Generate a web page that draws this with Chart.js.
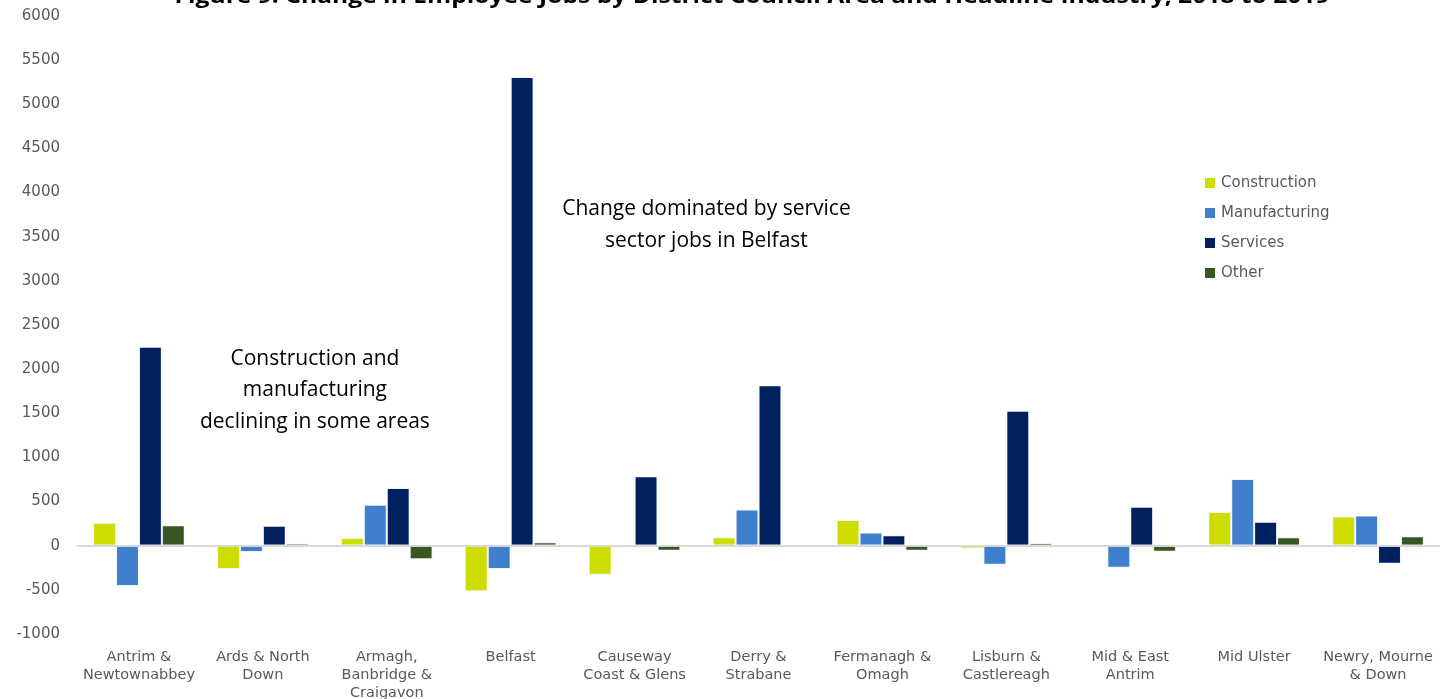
<!DOCTYPE html>
<html>
<head>
<meta charset="utf-8">
<title>Figure 9</title>
<script src="https://cdn.jsdelivr.net/npm/chart.js@4.4.1/dist/chart.umd.min.js"></script>
<style>
  html, body { margin: 0; padding: 0; background: #fff; overflow: hidden; }
  #wrap { width: 1443px; height: 699px; position: relative; }
</style>
</head>
<body>
<div id="wrap"><canvas id="myChart"></canvas></div>
<script>
const categories = [
    ["Antrim &", "Newtownabbey"],
    ["Ards & North", "Down"],
    ["Armagh,", "Banbridge &", "Craigavon"],
    ["Belfast"],
    ["Causeway", "Coast & Glens"],
    ["Derry &", "Strabane"],
    ["Fermanagh &", "Omagh"],
    ["Lisburn &", "Castlereagh"],
    ["Mid & East", "Antrim"],
    ["Mid Ulster"],
    ["Newry, Mourne", "& Down"]
];
const construction = [260, -265, 88, -515, -330, 95, 290, -30, 0, 383, 330];
const manufacturing = [-455, -70, 465, -265, -10, 410, 150, -215, -250, 756, 342];
const services = [2255, 225, 655, 5310, 787, 1817, 118, 1530, 440, 272, -205];
const other = [232, 22, -152, 40, -57, 10, -58, 30, -68, 95, 108];

const seriesNames = ["Construction", "Manufacturing", "Services", "Other"];
const seriesColors = ["#cedd00", "#3f7fcb", "#002060", "#385723"];

const yMin = -1000, yMax = 6000, yStep = 500;

const titleText = "Figure 9: Change in Employee Jobs by District Council Area and Headline Industry, 2018 to 2019";
// notes: lines, category position, value of first line, value step between lines
const notes = [
    { lines: ["Construction and", "manufacturing", "declining in some areas"], at: 1.42, value: 2115, gap: 357 },
    { lines: ["Change dominated by service", "sector jobs in Belfast"], at: 4.58, value: 3814, gap: 363 }
];

// title, notes and legend are drawn by hand so the plot keeps its full width
const extras = {
    id: "extras",
    afterDraw(chart) {
        const ctx = chart.ctx;
        const xs = chart.scales.x, ys = chart.scales.y;
        ctx.save();
        ctx.fillStyle = "#000";
        ctx.textAlign = "center";
        ctx.textBaseline = "alphabetic";
        ctx.font = "bold 21px 'Open Sans'";
        // the original title is wider than the font, so stretch it a little
        const w = ctx.measureText(titleText).width;
        ctx.save();
        ctx.translate(752, 3);
        ctx.scale(1155 / w, 1);
        ctx.fillText(titleText, 0, 0);
        ctx.restore();

        ctx.font = "21px 'Open Sans'";
        ctx.textBaseline = "middle";
        notes.forEach(n => {
            const px = xs.getPixelForValue(n.at);
            n.lines.forEach((line, i) => {
                ctx.fillText(line, px, ys.getPixelForValue(n.value - i * n.gap));
            });
        });

        ctx.textAlign = "left";
        ctx.font = "15px 'DejaVu Sans'";
        chart.data.datasets.forEach((ds, i) => {
            const y = 183 + i * 30;
            ctx.fillStyle = ds.backgroundColor;
            ctx.fillRect(1205, y - 5, 10, 10);
            ctx.fillStyle = "#595959";
            ctx.fillText(ds.label, 1221, y);
        });
        ctx.restore();
    }
};

const allSeries = [construction, manufacturing, services, other];

new Chart(document.getElementById("myChart"), {
    type: "bar",
    data: {
        labels: categories,
        datasets: allSeries.map((vals, i) => ({
            label: seriesNames[i],
            data: vals,
            backgroundColor: seriesColors[i],
            borderColor: "rgba(220,230,242,0.45)",
            borderWidth: 1,
            categoryPercentage: 0.74,
            barPercentage: 1
        }))
    },
    options: {
        responsive: true,
        maintainAspectRatio: false,
        animation: false,
        layout: { padding: { top: 16, right: 3, left: 0, bottom: 0 } },
        plugins: {
            legend: { display: false },
            tooltip: { enabled: false }
        },
        scales: {
            x: {
                grid: { display: false },
                border: { display: false },
                ticks: {
                    color: "#595959",
                    font: { family: "'DejaVu Sans'", size: 14.5, lineHeight: 1.24 },
                    padding: 6,
                    maxRotation: 0,
                    autoSkip: false
                },
                afterFit(scale) {
                    scale.height = 65;
                    scale.paddingLeft = 0;
                    scale.paddingRight = 0;
                }
            },
            y: {
                min: yMin,
                max: yMax,
                border: { display: false },
                grid: {
                    drawTicks: false,
                    lineWidth: 2,
                    color: c => c.tick && c.tick.value === 0 ? "#d9d9d9" : "rgba(0,0,0,0)"
                },
                ticks: {
                    stepSize: yStep,
                    color: "#595959",
                    font: { family: "'DejaVu Sans'", size: 15 },
                    padding: 17,
                    callback: v => String(v)
                },
                afterFit(scale) {
                    scale.width = 77;
                    scale.paddingTop = 0;
                    scale.paddingBottom = 0;
                }
            }
        }
    },
    plugins: [extras]
});
</script>
</body>
</html>
